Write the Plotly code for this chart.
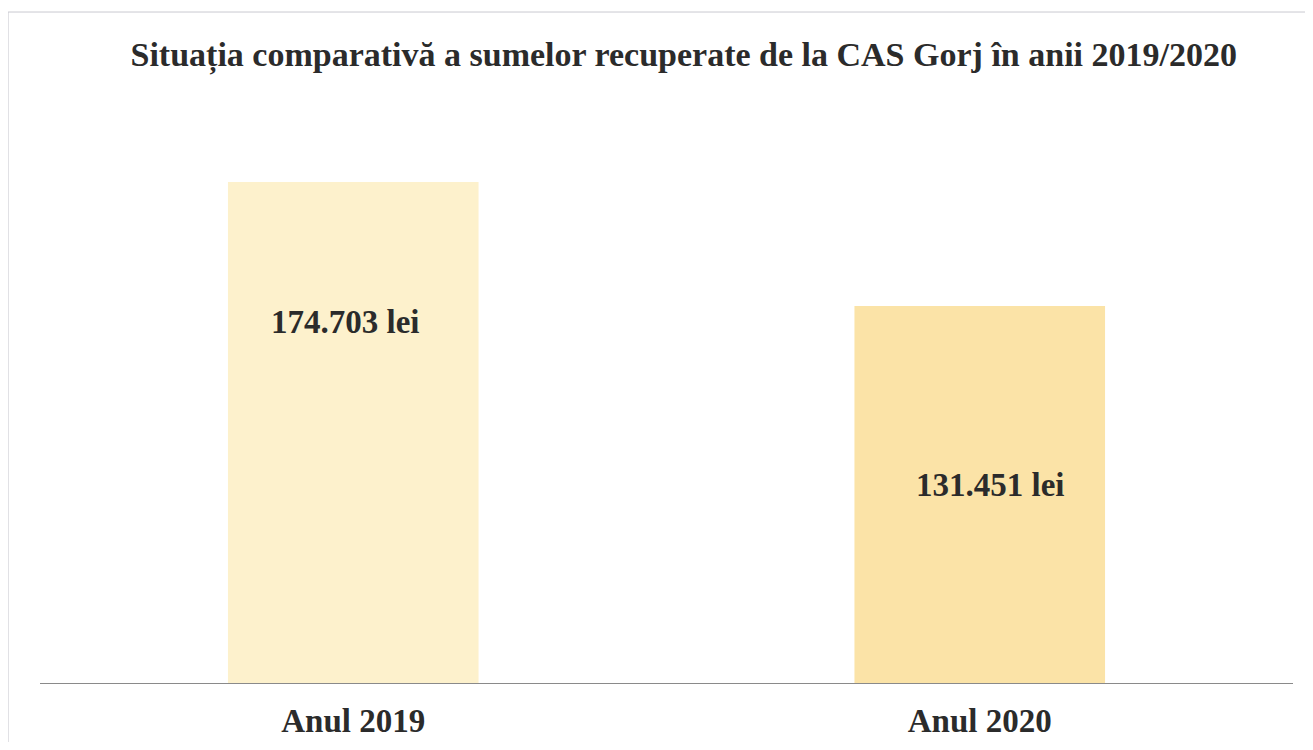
import plotly.graph_objects as go

categories = ["Anul 2019", "Anul 2020"]
values = [174703, 131451]
value_labels = ["174.703 lei", "131.451 lei"]
bar_colors = ["#FDF1CC", "#FBE3A7"]
label_pos_frac = [0.72, 0.525]

title = "Situația comparativă a sumelor recuperate de la CAS Gorj în anii 2019/2020"
FONT = "Liberation Serif"

fig = go.Figure(go.Bar(
    x=categories, y=values,
    marker=dict(color=bar_colors, line=dict(width=0)),
    hoverinfo="skip",
))

for c, v, lab, f in zip(categories, values, value_labels, label_pos_frac):
    fig.add_annotation(x=c, y=v * f, text="<b>" + lab + "</b>", showarrow=False,
                       xshift=-8 if c == categories[0] else 10,
                       font=dict(family=FONT, size=33, color="#2b2b2b"))

fig.add_shape(type="rect", xref="paper", yref="paper",
              x0=-0.0255, x1=1.2, y0=-0.5, y1=1.1918,
              line=dict(color="#c9c9d0", width=1), layer="below")

fig.update_layout(
    width=1297, height=734,
    margin=dict(l=32, r=12, t=112, b=59, autoexpand=False),
    paper_bgcolor="white", plot_bgcolor="white",
    bargap=0.6,
    showlegend=False,
    title=dict(text="<b>" + title + "</b>", x=0.521, xanchor="center",
               y=0.937, yanchor="middle",
               font=dict(family=FONT, size=34, color="#2b2b2b")),
    xaxis=dict(showline=True, linecolor="#8a8a8a", linewidth=1,
               ticks="", showgrid=False, zeroline=False, automargin=False,
               tickfont=dict(family=FONT, size=33, color="#2b2b2b"),
               ticklabelstandoff=8),
    yaxis=dict(range=[0, 196320], visible=False, showgrid=False,
               zeroline=False, automargin=False),
)
fig.update_xaxes(tickvals=categories, ticktext=["<b>" + c + "</b>" for c in categories])

fig.write_html("out.html")
